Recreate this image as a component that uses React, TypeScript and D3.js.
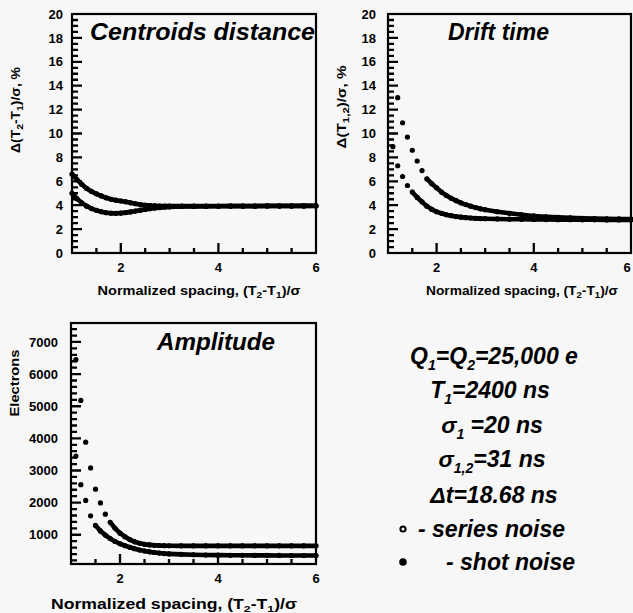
import React from 'react';
import * as d3 from 'd3';

// Sampling positions along the normalized spacing axis
const X_GRID = [1.0, 1.1, 1.2, 1.3, 1.4, 1.5, 1.6, 1.7, 1.8, 1.9, 2.0, 2.1, 2.2, 2.3, 2.4, 2.5, 2.6, 2.7, 2.8, 2.9, 3.0,
  3.25, 3.5, 3.75, 4.0, 4.25, 4.5, 4.75, 5.0, 5.25, 5.5, 5.75, 6.0];

// Centroids distance, %
const centroidsUpper = [6.6, 6.15, 5.75, 5.4, 5.15, 4.95, 4.78, 4.62, 4.5, 4.42, 4.35, 4.28, 4.2, 4.12, 4.05, 4.0, 3.97, 3.95, 3.93, 3.92, 3.92,
  3.92, 3.92, 3.92, 3.93, 3.93, 3.93, 3.93, 3.94, 3.94, 3.94, 3.94, 3.95];
const centroidsLower = [5.0, 4.55, 4.2, 3.92, 3.72, 3.57, 3.45, 3.37, 3.33, 3.32, 3.34, 3.38, 3.44, 3.51, 3.58, 3.65, 3.71, 3.76, 3.8, 3.84, 3.86,
  3.89, 3.9, 3.91, 3.91, 3.92, 3.92, 3.92, 3.93, 3.93, 3.93, 3.94, 3.94];

// Drift time, %
const driftUpper = [null, null, 13.0, 10.9, 9.7, 8.6, 7.7, 6.9, 6.2, 5.8, 5.45, 5.1, 4.82, 4.58, 4.38, 4.2, 4.05, 3.92, 3.8, 3.7, 3.62,
  3.45, 3.32, 3.2, 3.1, 3.03, 2.98, 2.94, 2.9, 2.88, 2.86, 2.85, 2.84];
const driftLower = [null, 8.9, 7.3, 6.4, 5.65, 5.1, 4.65, 4.28, 3.92, 3.65, 3.45, 3.32, 3.2, 3.12, 3.05, 3.0, 2.96, 2.93, 2.9, 2.88, 2.87,
  2.85, 2.83, 2.82, 2.81, 2.8, 2.79, 2.79, 2.78, 2.78, 2.77, 2.77, 2.77];

// Amplitude, electrons
const ampUpper = [null, 6450, 5180, 3880, 3080, 2420, 1990, 1640, 1390, 1200, 1050, 940, 850, 780, 735, 705, 685, 672, 665, 660, 658,
  655, 655, 655, 655, 655, 655, 655, 655, 655, 655, 655, 655];
const ampLower = [null, 3450, 2560, 2070, 1590, 1290, 1120, 990, 880, 790, 720, 660, 610, 565, 525, 495, 468, 448, 430, 415, 405,
  390, 378, 370, 365, 362, 360, 358, 357, 356, 355, 355, 355];

// Tick labels
const X_LABELS = [2, 4, 6];
const X_MINOR = [1.5, 2.5, 3, 3.5, 4.5, 5, 5.5];
const PCT_LABELS = [0, 2, 4, 6, 8, 10, 12, 14, 16, 18, 20];
const E_LABELS = [1000, 2000, 3000, 4000, 5000, 6000, 7000];

const FONT = '"Liberation Sans", Arial, Helvetica, sans-serif';

type Box = { l: number; r: number; t: number; b: number };

type PanelSpec = {
  box: Box;
  yDomain: [number, number];
  yLabels: number[];
  yMinorStep: number;
  series: (number | null)[][];
  labelGap: number;
};

function scalesFor(p: PanelSpec) {
  const x = d3.scaleLinear().domain([1, 6]).range([p.box.l, p.box.r]);
  const y = d3.scaleLinear().domain(p.yDomain).range([p.box.b, p.box.t]);
  return { x, y };
}

function tickPath(p: PanelSpec): string {
  const { box, yDomain, yLabels, yMinorStep } = p;
  const { x, y } = scalesFor(p);
  const path = d3.path();
  const inside = (py: number) => py < box.b - 1 && py > box.t + 1;
  yLabels.forEach(v => {
    const py = y(v);
    if (inside(py)) { path.moveTo(box.l, py); path.lineTo(box.l + 10, py); }
  });
  d3.range(Math.ceil(yDomain[0] / yMinorStep) * yMinorStep, yDomain[1], yMinorStep).forEach(v => {
    const py = y(v);
    if (!yLabels.includes(v) && inside(py)) { path.moveTo(box.l, py); path.lineTo(box.l + 6, py); }
  });
  X_MINOR.forEach(v => { path.moveTo(x(v), box.b); path.lineTo(x(v), box.b - 5); });
  X_LABELS.forEach(v => { if (v < 6) { path.moveTo(x(v), box.b); path.lineTo(x(v), box.b - 10); } });
  return path.toString();
}

function renderPanel(p: PanelSpec, id: string) {
  const { box, series, yLabels, labelGap } = p;
  const { x, y } = scalesFor(p);
  const marks: React.ReactNode[] = [];
  series.forEach((s, si) => {
    for (let i = 1; i < s.length; i++) {
      const a = s[i - 1], b = s[i];
      if (a == null || b == null) continue;
      if (Math.abs(y(a) - y(b)) < 6.5) {
        marks.push(<line key={`${id}s${si}-${i}`} x1={x(X_GRID[i - 1])} y1={y(a)} x2={x(X_GRID[i])} y2={y(b)}
          stroke="#000" strokeWidth={4.6} strokeLinecap="round" />);
      }
    }
    s.forEach((v, i) => {
      if (v == null) return;
      marks.push(<circle key={`${id}d${si}-${i}`} cx={x(X_GRID[i])} cy={y(v)} r={2.6} fill="#000" />);
    });
  });
  return (
    <g key={id}>
      {marks}
      <rect x={box.l} y={box.t} width={box.r - box.l} height={box.b - box.t} fill="none" stroke="#000" strokeWidth={2.2} />
      <path d={tickPath(p)} fill="none" stroke="#000" strokeWidth={2.3} />
      {yLabels.map(v => (
        <text key={`${id}yl${v}`} x={box.l - labelGap} y={y(v)} dy="0.36em" textAnchor="end" fontFamily={FONT}
          fontWeight="bold" fontSize={13} fill="#000">{v}</text>
      ))}
      {X_LABELS.map(v => (
        <text key={`${id}xl${v}`} x={Math.min(x(v), 627)} y={box.b + 18.5} textAnchor="middle" fontFamily={FONT}
          fontWeight="bold" fontSize={13} fill="#000">{v}</text>
      ))}
    </g>
  );
}

function XTitle({ cx, y, size, len }: { cx: number; y: number; size: number; len: number }) {
  return (
    <text x={cx} y={y} textAnchor="middle" fontFamily={FONT} fontWeight="bold" fontSize={size} fill="#000"
      textLength={len} lengthAdjust="spacingAndGlyphs">
      Normalized spacing, (T<tspan dy={3} fontSize={size * 0.7}>2</tspan><tspan dy={-3}>-T</tspan>
      <tspan dy={3} fontSize={size * 0.7}>1</tspan><tspan dy={-3}>)/σ</tspan>
    </text>
  );
}

const SUB = 14;
const DY = 6;

export default function App() {
  const p1: PanelSpec = { box: { l: 72, r: 316, t: 14, b: 253 }, yDomain: [0, 20], yLabels: PCT_LABELS, yMinorStep: 0.5,
    series: [centroidsUpper, centroidsLower], labelGap: 9 };
  const p2: PanelSpec = { box: { l: 388, r: 631, t: 14, b: 253 }, yDomain: [0, 20], yLabels: PCT_LABELS, yMinorStep: 0.5,
    series: [driftUpper, driftLower], labelGap: 12 };
  const p3: PanelSpec = { box: { l: 71, r: 316, t: 323, b: 564 }, yDomain: [90, 7590], yLabels: E_LABELS, yMinorStep: 200,
    series: [ampUpper, ampLower], labelGap: 13 };
  const titleStyle = { fontFamily: FONT, fontWeight: 'bold' as const, fontStyle: 'italic' as const, fill: '#000' };
  return (
    <svg width={633} height={613} style={{ position: 'absolute', left: 0, top: 0 }}>
      <rect x={0} y={0} width={633} height={613} fill="#f7f7f7" />

      {renderPanel(p1, 'p1')}
      {renderPanel(p2, 'p2')}
      {renderPanel(p3, 'p3')}

      <text x={90} y={40} fontSize={23} {...titleStyle} textLength={225} lengthAdjust="spacingAndGlyphs">Centroids distance</text>
      <text x={448} y={40} fontSize={23} {...titleStyle}>Drift time</text>
      <text x={157} y={350} fontSize={23} {...titleStyle} textLength={118} lengthAdjust="spacingAndGlyphs">Amplitude</text>

      <XTitle cx={199} y={295} size={12} len={203} />
      <XTitle cx={522} y={295} size={12} len={192} />
      <XTitle cx={174} y={609} size={14} len={246} />

      <text transform="translate(20,110) rotate(-90)" textAnchor="middle" fontFamily={FONT} fontWeight="bold"
        fontSize={12} fill="#000" textLength={86} lengthAdjust="spacingAndGlyphs">
        Δ(T<tspan dy={3} fontSize={9}>2</tspan><tspan dy={-3}>-T</tspan><tspan dy={3} fontSize={9}>1</tspan>
        <tspan dy={-3}>)/σ, %</tspan>
      </text>
      <text transform="translate(346,107) rotate(-90)" textAnchor="middle" fontFamily={FONT} fontWeight="bold"
        fontSize={12} fill="#000" textLength={83} lengthAdjust="spacingAndGlyphs">
        Δ(T<tspan dy={3} fontSize={9}>1,2</tspan><tspan dy={-3}>)/σ, %</tspan>
      </text>
      <text transform="translate(19,383) rotate(-90)" textAnchor="middle" fontFamily={FONT} fontWeight="bold"
        fontSize={12} fill="#000" textLength={67} lengthAdjust="spacingAndGlyphs">Electrons</text>

      <g>
        <text x={494} y={364} textAnchor="middle" {...titleStyle} fontSize={23}>
          Q<tspan dy={DY} fontSize={SUB}>1</tspan><tspan dy={-DY}>=Q</tspan><tspan dy={DY} fontSize={SUB}>2</tspan>
          <tspan dy={-DY}>=25,000 e</tspan>
        </text>
        <text x={490} y={398} textAnchor="middle" {...titleStyle} fontSize={23}>
          T<tspan dy={DY} fontSize={SUB}>1</tspan><tspan dy={-DY}>=2400 ns</tspan>
        </text>
        <text x={492} y={433} textAnchor="middle" {...titleStyle} fontSize={23}>
          σ<tspan dy={DY} fontSize={SUB}>1</tspan><tspan dy={-DY}> =20 ns</tspan>
        </text>
        <text x={492} y={467} textAnchor="middle" {...titleStyle} fontSize={23}>
          σ<tspan dy={DY} fontSize={SUB}>1,2</tspan><tspan dy={-DY}>=31 ns</tspan>
        </text>
        <text x={494} y={503} textAnchor="middle" {...titleStyle} fontSize={23}>Δt=18.68 ns</text>
        <circle cx={403} cy={529} r={2.6} fill="none" stroke="#000" strokeWidth={2} />
        <text x={418} y={537} {...titleStyle} fontSize={23}>- series noise</text>
        <circle cx={403} cy={562} r={3.8} fill="#000" />
        <text x={446} y={570} {...titleStyle} fontSize={23}>- shot noise</text>
      </g>
    </svg>
  );
}
